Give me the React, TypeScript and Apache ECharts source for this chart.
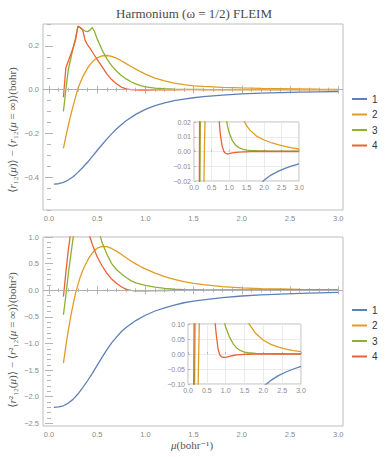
import { useEffect, useRef } from "react";
import * as echarts from "echarts";

// ---------- text ----------
const TITLE = "Harmonium (ω = 1/2) FLEIM";
const SERIES_NAMES = ["1", "2", "3", "4"];
const COLORS = ["#5E81B5", "#E19C24", "#8FB032", "#EB6235"];

// ---------- data: curve 1 ----------
const MU_1 = [0.05, 0.1, 0.15, 0.2, 0.25, 0.3, 0.35, 0.4, 0.45, 0.5, 0.55, 0.6, 0.65, 0.7, 0.75, 0.8, 0.9, 1.0, 1.1, 1.2, 1.3, 1.4, 1.5, 1.6, 1.8, 2.0, 2.2, 2.4, 2.6, 2.8, 3.0];
const R12_DIFF_1 = [-0.432, -0.43, -0.424, -0.413, -0.398, -0.378, -0.356, -0.332, -0.305, -0.278, -0.252, -0.226, -0.202, -0.18, -0.16, -0.142, -0.113, -0.09, -0.073, -0.06, -0.05, -0.043, -0.037, -0.032, -0.025, -0.0195, -0.016, -0.0135, -0.0115, -0.0098, -0.0084];
const R12SQ_DIFF_1 = [-2.2, -2.19, -2.17, -2.12, -2.05, -1.95, -1.83, -1.7, -1.56, -1.41, -1.26, -1.12, -0.99, -0.88, -0.78, -0.7, -0.57, -0.47, -0.39, -0.33, -0.28, -0.235, -0.205, -0.18, -0.138, -0.108, -0.088, -0.072, -0.06, -0.05, -0.041];

// ---------- data: curves 2, 3, 4 ----------
const MU_234 = [0.15, 0.175, 0.2, 0.225, 0.25, 0.275, 0.3, 0.325, 0.35, 0.375, 0.4, 0.425, 0.45, 0.475, 0.5, 0.55, 0.6, 0.65, 0.7, 0.75, 0.8, 0.85, 0.9, 0.95, 1.0, 1.1, 1.2, 1.3, 1.4, 1.5, 1.6, 1.8, 2.0, 2.2, 2.4, 2.6, 2.8, 3.0];
const R12_DIFF_2 = [-0.268, -0.215, -0.165, -0.118, -0.075, -0.035, 0.005, 0.033, 0.058, 0.079, 0.098, 0.114, 0.127, 0.137, 0.145, 0.154, 0.156, 0.152, 0.144, 0.132, 0.119, 0.106, 0.094, 0.082, 0.071, 0.053, 0.04, 0.03, 0.0225, 0.0175, 0.0145, 0.0102, 0.0078, 0.0061, 0.0047, 0.0035, 0.0025, 0.0017];
const R12_DIFF_3 = [-0.1, 0.0, 0.09, 0.14, 0.19, 0.235, 0.287, 0.283, 0.275, 0.268, 0.265, 0.272, 0.284, 0.262, 0.232, 0.182, 0.142, 0.11, 0.085, 0.065, 0.049, 0.036, 0.026, 0.018, 0.013, 0.0072, 0.004, 0.0024, 0.0015, 0.001, 0.0007, 0.0005, 0.0004, 0.0003, 0.0003, 0.0002, 0.0002, 0.0002];
const R12_DIFF_4 = [-0.035, 0.1, 0.13, 0.16, 0.19, 0.225, 0.29, 0.284, 0.272, 0.225, 0.205, 0.19, 0.172, 0.155, 0.138, 0.105, 0.072, 0.046, 0.027, 0.012, 0.004, 0.0002, -0.0012, -0.0017, -0.0015, -0.001, -0.0006, -0.0004, -0.0003, -0.0002, -0.0001, 0, 0, 0, 0, 0, 0, 0];
const R12SQ_DIFF_2 = [-1.37, -1.05, -0.76, -0.5, -0.27, -0.06, 0.1, 0.25, 0.37, 0.47, 0.56, 0.635, 0.7, 0.75, 0.79, 0.825, 0.82, 0.785, 0.735, 0.675, 0.61, 0.55, 0.495, 0.445, 0.4, 0.32, 0.255, 0.205, 0.163, 0.13, 0.104, 0.068, 0.046, 0.032, 0.023, 0.016, 0.011, 0.008];
const R12SQ_DIFF_3 = [-0.46, -0.1, 0.3, 0.64, 0.98, 1.3, 1.55, 1.65, 1.7, 1.68, 1.7, 1.72, 1.6, 1.4, 1.22, 0.9, 0.68, 0.5, 0.39, 0.31, 0.24, 0.18, 0.14, 0.113, 0.09, 0.057, 0.034, 0.019, 0.011, 0.0065, 0.0042, 0.0022, 0.0014, 0.001, 0.0008, 0.0007, 0.0006, 0.0005];
const R12SQ_DIFF_4 = [-0.12, 0.33, 0.75, 1.08, 1.3, 1.5, 1.65, 1.6, 1.5, 1.3, 1.15, 1.0, 0.86, 0.74, 0.63, 0.46, 0.32, 0.21, 0.13, 0.065, 0.015, -0.004, -0.01, -0.0115, -0.011, -0.008, -0.005, -0.003, -0.002, -0.0012, -0.0008, -0.0003, -0.0001, 0, 0, 0, 0, 0];

// ---------- ticks ----------
const X_TICKS = [0, 0.5, 1, 1.5, 2, 2.5, 3];
const TOP_Y_TICKS = [-0.4, -0.2, 0, 0.2];
const BOTTOM_Y_TICKS = [-2.5, -2, -1.5, -1, -0.5, 0, 0.5, 1];
const TOP_INSET_Y_RANGE = [-0.02, 0.02, 0.01];
const BOTTOM_INSET_Y_RANGE = [-0.1, 0.1, 0.05];

const TICK_COLOR = "#b5b5b5";
const LABEL_COLOR = "#8a8a8a";
const FRAME_COLOR = "#bdbdbd";
const SANS = "Liberation Sans, Arial, sans-serif";
const SERIF = "Liberation Serif, DejaVu Serif, serif";

const minorBetween = (lo: number, hi: number, step: number) => {
  const out: number[] = [];
  const n = Math.round((hi - lo) / step);
  for (let i = 0; i <= n; i++) out.push(+(lo + i * step).toFixed(6));
  return out;
};

const fmt = (digits: number) => (v: number) => {
  const val = Math.abs(v) < 1e-9 ? 0 : v;
  return val.toFixed(digits).replace("-", "\u2212");
};

export default function App() {
  const ref = useRef<HTMLDivElement>(null);

  useEffect(() => {
    if (!ref.current) return;
    const chart = echarts.init(ref.current, undefined, { renderer: "svg" });

    const xAxes: any[] = [];
    const yAxes: any[] = [];

    const addMain = (
      gridIndex: number,
      xr: [number, number],
      yr: [number, number],
      yTicks: number[],
      yMinor: number[]
    ) => {
      const xMinor = minorBetween(0, 3, 0.1);
      const xi = xAxes.length;
      const yi = yAxes.length;
      const baseX = { type: "value", gridIndex, min: xr[0], max: xr[1], axisLine: { show: false }, splitLine: { show: false } };
      const baseY = { type: "value", gridIndex, min: yr[0], max: yr[1], axisLine: { show: false }, splitLine: { show: false } };
      xAxes.push({
        ...baseX,
        position: "bottom",
        axisTick: { inside: true, length: 4, customValues: X_TICKS, lineStyle: { color: TICK_COLOR } },
        axisLabel: { customValues: X_TICKS, formatter: fmt(1), fontSize: 7.5, color: LABEL_COLOR, margin: 4, fontFamily: SANS },
      });
      xAxes.push({ ...baseX, position: "bottom", axisLabel: { show: false }, axisTick: { inside: true, length: 2, customValues: xMinor, lineStyle: { color: TICK_COLOR } } });
      xAxes.push({ ...baseX, position: "top", axisLabel: { show: false }, axisTick: { inside: true, length: 4, customValues: X_TICKS, lineStyle: { color: TICK_COLOR } } });
      xAxes.push({ ...baseX, position: "top", axisLabel: { show: false }, axisTick: { inside: true, length: 2, customValues: xMinor, lineStyle: { color: TICK_COLOR } } });
      yAxes.push({
        ...baseY,
        position: "left",
        axisTick: { inside: true, length: 4, customValues: yTicks, lineStyle: { color: TICK_COLOR } },
        axisLabel: { customValues: yTicks, formatter: fmt(1), fontSize: 7.5, color: LABEL_COLOR, margin: 4, fontFamily: SANS },
      });
      yAxes.push({ ...baseY, position: "left", axisLabel: { show: false }, axisTick: { inside: true, length: 2, customValues: yMinor, lineStyle: { color: TICK_COLOR } } });
      yAxes.push({ ...baseY, position: "right", axisLabel: { show: false }, axisTick: { inside: true, length: 4, customValues: yTicks, lineStyle: { color: TICK_COLOR } } });
      yAxes.push({ ...baseY, position: "right", axisLabel: { show: false }, axisTick: { inside: true, length: 2, customValues: yMinor, lineStyle: { color: TICK_COLOR } } });
      return { xi, yi };
    };

    const addInset = (gridIndex: number, yRange: number[]) => {
      const xi = xAxes.length;
      const yi = yAxes.length;
      xAxes.push({
        type: "value", gridIndex, min: 0, max: 3, interval: 0.5, z: 4,
        axisLine: { show: false },
        splitLine: { show: true, lineStyle: { color: "#e6e6e6", width: 0.8 } },
        axisTick: { inside: true, length: 2, lineStyle: { color: TICK_COLOR } },
        axisLabel: { formatter: fmt(1), fontSize: 7, color: LABEL_COLOR, margin: 3, fontFamily: SANS },
      });
      yAxes.push({
        type: "value", gridIndex, min: yRange[0], max: yRange[1], interval: yRange[2], z: 4,
        axisLine: { show: false },
        splitLine: { show: true, lineStyle: { color: "#e6e6e6", width: 0.8 } },
        axisTick: { inside: true, length: 2, lineStyle: { color: TICK_COLOR } },
        axisLabel: { formatter: fmt(2), fontSize: 7, color: LABEL_COLOR, margin: 3, fontFamily: SANS },
      });
      return { xi, yi };
    };

    const topMain = addMain(0, [-0.062, 3.05], [-0.55, 0.3], TOP_Y_TICKS, minorBetween(-0.55, 0.3, 0.05));
    const topInset = addInset(1, TOP_INSET_Y_RANGE);
    const botMain = addMain(2, [-0.062, 3.05], [-2.55, 1.0], BOTTOM_Y_TICKS, minorBetween(-2.5, 1.0, 0.1));
    const botInset = addInset(3, BOTTOM_INSET_Y_RANGE);

    const curvesTop = [
      { x: MU_1, y: R12_DIFF_1 },
      { x: MU_234, y: R12_DIFF_2 },
      { x: MU_234, y: R12_DIFF_3 },
      { x: MU_234, y: R12_DIFF_4 },
    ];
    const curvesBot = [
      { x: MU_1, y: R12SQ_DIFF_1 },
      { x: MU_234, y: R12SQ_DIFF_2 },
      { x: MU_234, y: R12SQ_DIFF_3 },
      { x: MU_234, y: R12SQ_DIFF_4 },
    ];

    const series: any[] = [];
    const makeSeries = (curves: any[], ax: { xi: number; yi: number }, z: number, withZero: boolean, width: number) => {
      curves.forEach((c, i) => {
        series.push({
          type: "line",
          name: SERIES_NAMES[i],
          xAxisIndex: ax.xi,
          yAxisIndex: ax.yi,
          data: c.x.map((xv: number, k: number) => [xv, c.y[k]]),
          showSymbol: false,
          symbol: "none",
          clip: true,
          z,
          color: COLORS[i],
          lineStyle: { color: COLORS[i], width },
          emphasis: { disabled: true },
          ...(withZero && i === 0
            ? {
                markLine: {
                  silent: true,
                  symbol: "none",
                  label: { show: false },
                  lineStyle: { color: "#b0b0b0", type: "solid", width: 1 },
                  data: [{ yAxis: 0 }],
                },
              }
            : {}),
        });
      });
    };
    makeSeries(curvesTop, topMain, 2, true, 1.3);
    makeSeries(curvesTop, topInset, 5, false, 1.3);
    makeSeries(curvesBot, botMain, 2, true, 1.3);
    makeSeries(curvesBot, botInset, 5, false, 1.3);

    const legendBase = {
      orient: "vertical",
      left: 352,
      padding: 0,
      itemGap: 3.5,
      itemWidth: 15,
      itemHeight: 2,
      icon: "rect",
      selectedMode: false,
      data: SERIES_NAMES,
      textStyle: { fontSize: 10, lineHeight: 12, color: "#333", fontFamily: SANS },
    };

    const yLabelRich = {
      i: { fontStyle: "italic", fontFamily: SERIF, fontSize: 11, fill: "#555" },
      n: { fontFamily: SERIF, fontSize: 11, fill: "#555" },
    };

    chart.setOption({
      animation: false,
      backgroundColor: "#ffffff",
      grid: [
        { left: 43, top: 24, width: 300, height: 186, show: true, borderColor: FRAME_COLOR, borderWidth: 1, backgroundColor: "transparent", z: 0 },
        { left: 194, top: 122, width: 105, height: 59, show: true, borderColor: FRAME_COLOR, borderWidth: 1, backgroundColor: "#ffffff", z: 3 },
        { left: 43, top: 237, width: 300, height: 189, show: true, borderColor: FRAME_COLOR, borderWidth: 1, backgroundColor: "transparent", z: 0 },
        { left: 188, top: 324, width: 113, height: 60, show: true, borderColor: FRAME_COLOR, borderWidth: 1, backgroundColor: "#ffffff", z: 3 },
      ],
      xAxis: xAxes,
      yAxis: yAxes,
      legend: [
        { ...legendBase, top: 93 },
        { ...legendBase, top: 304 },
      ],
      graphic: [
        {
          type: "text",
          x: 194,
          y: 13,
          style: {
            text: TITLE,
            fontFamily: SERIF,
            fontSize: 13,
            fill: "#4a4a4a",
            align: "center",
            verticalAlign: "middle",
          },
        },
        {
          type: "text",
          x: 12,
          y: 130,
          rotation: Math.PI / 2,
          style: {
            text: "{n|⟨}{i|r}{n|₁₂(}{i|μ}{n|)⟩ − ⟨}{i|r}{n|₁₂(}{i|μ}{n| = ∞)⟩(bohr)}",
            rich: yLabelRich,
            align: "center",
            verticalAlign: "middle",
          },
        },
        {
          type: "text",
          x: 12,
          y: 340,
          rotation: Math.PI / 2,
          style: {
            text: "{n|⟨}{i|r}{n|²₁₂(}{i|μ}{n|)⟩ − ⟨}{i|r}{n|²₁₂(}{i|μ}{n| = ∞)⟩(bohr²)}",
            rich: yLabelRich,
            align: "center",
            verticalAlign: "middle",
          },
        },
        {
          type: "text",
          x: 192,
          y: 445,
          style: {
            text: "{i|μ}{n|(bohr⁻¹)}",
            rich: yLabelRich,
            align: "center",
            verticalAlign: "middle",
          },
        },
      ],
      series,
    });

    return () => chart.dispose();
  }, []);

  return <div ref={ref} style={{ position: "absolute", left: 0, top: 0, width: 388, height: 457 }} />;
}
